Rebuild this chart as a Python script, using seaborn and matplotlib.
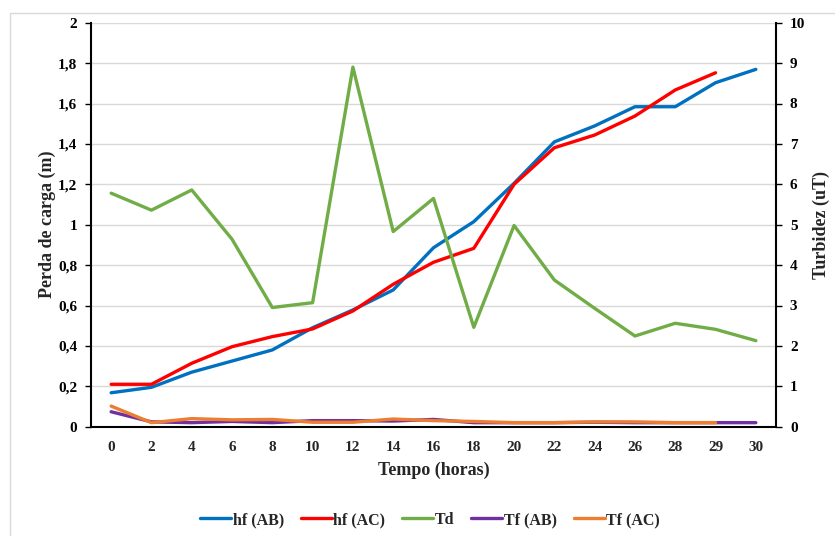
import matplotlib
matplotlib.use("Agg")
import matplotlib.pyplot as plt
import seaborn as sns
import numpy as np
from matplotlib.lines import Line2D
from matplotlib.ticker import FuncFormatter

sns.set_style("white")
plt.rcParams['font.family'] = ['Liberation Serif', 'DejaVu Serif']
plt.rcParams['font.weight'] = 'bold'

hours = ["0", "2", "4", "6", "8", "10", "12", "14", "16", "18", "20", "22", "24", "26", "28", "29", "30"]
hf_ab = [0.168, 0.195, 0.27, 0.325, 0.38, 0.49, 0.578, 0.677, 0.886, 1.015, 1.205, 1.41, 1.489, 1.584, 1.584, 1.703, 1.769]
hf_ac = [0.21, 0.21, 0.314, 0.396, 0.446, 0.484, 0.573, 0.705, 0.814, 0.883, 1.20, 1.381, 1.444, 1.538, 1.667, 1.752, np.nan]
td = [5.78, 5.36, 5.86, 4.64, 2.95, 3.07, 8.9, 4.83, 5.65, 2.46, 4.98, 3.63, 2.93, 2.245, 2.56, 2.41, 2.13]
tf_ab = [0.37, 0.12, 0.10, 0.13, 0.10, 0.15, 0.15, 0.14, 0.18, 0.10, 0.10, 0.10, 0.11, 0.10, 0.10, 0.10, 0.10]
tf_ac = [0.51, 0.10, 0.20, 0.17, 0.18, 0.11, 0.11, 0.19, 0.15, 0.13, 0.10, 0.10, 0.12, 0.12, 0.10, 0.10, np.nan]

colors = {"hf (AB)": "#0070C0", "hf (AC)": "#FF0000", "Td": "#70AD47",
          "Tf (AB)": "#7030A0", "Tf (AC)": "#ED7D31"}

fig = plt.figure(figsize=(8.35, 5.36), dpi=100)
ax = fig.add_axes([91/835, 1-426.7/536, (776-91)/835, (426.7-22.7)/536])
ax2 = ax.twinx()

x = np.arange(len(hours))
lw = 2.4
sns.lineplot(x=x, y=hf_ab, ax=ax, color=colors["hf (AB)"], lw=lw)
sns.lineplot(x=x, y=hf_ac, ax=ax, color=colors["hf (AC)"], lw=lw)
sns.lineplot(x=x, y=td, ax=ax2, color=colors["Td"], lw=lw)
sns.lineplot(x=x, y=tf_ab, ax=ax2, color=colors["Tf (AB)"], lw=lw)
sns.lineplot(x=x, y=tf_ac, ax=ax2, color=colors["Tf (AC)"], lw=lw)

ax.set_xlim(-0.5, len(hours) - 0.5)
ax.set_ylim(0, 2)
ax2.set_ylim(0, 10)
ax.set_yticks(np.arange(0, 2.01, 0.2))
ax2.set_yticks(np.arange(0, 11, 1))
ax.yaxis.set_major_formatter(FuncFormatter(lambda v, p: ("%g" % round(v, 1)).replace(".", ",")))
ax.set_xticks(x)
ax.set_xticklabels(hours)

ax.grid(axis='y', color='#d9d9d9', lw=1)
ax.set_axisbelow(True)
for a in (ax, ax2):
    a.spines['top'].set_visible(False)
ax.spines['right'].set_visible(False)
ax.spines['left'].set_color('black')
ax.spines['bottom'].set_color('black')
ax2.spines['right'].set_color('black')
ax2.spines['left'].set_visible(False)
ax2.spines['bottom'].set_visible(False)
for a in (ax, ax2):
    for s in a.spines.values():
        s.set_linewidth(1.5)

ax.tick_params(axis='y', direction='out', length=4, width=1, colors='black', labelsize=11, pad=6)
ax.tick_params(axis='x', length=0, labelsize=11, pad=10)
ax2.tick_params(axis='y', direction='out', length=4, width=1, colors='black', labelsize=11, pad=6)
for lab in ax.get_xticklabels() + ax.get_yticklabels() + ax2.get_yticklabels():
    lab.set_fontweight('bold')

ax.set_xlabel("Tempo (horas)", fontsize=13, fontweight='bold', labelpad=6)
ax.set_ylabel("Perda de carga (m)", fontsize=13, fontweight='bold', labelpad=1)
ax2.set_ylabel("Turbidez (uT)", fontsize=13, fontweight='bold', labelpad=5)

handles = [Line2D([0], [0], color=c, lw=2.4) for c in colors.values()]
fig.legend(handles, list(colors.keys()), loc='center', bbox_to_anchor=(0.515, 1-520/536),
           ncol=5, frameon=False, prop={'weight': 'bold', 'size': 11.5},
           handlelength=1.95, handletextpad=0.1, columnspacing=1.05)

# outer chart border (light gray)
fig.add_artist(Line2D([10/835, 10/835], [0, 1-13/536], transform=fig.transFigure, color='#d9d9d9', lw=1))
fig.add_artist(Line2D([10/835, 1], [1-13/536, 1-13/536], transform=fig.transFigure, color='#d9d9d9', lw=1))

fig.savefig("out.png", dpi=100)
